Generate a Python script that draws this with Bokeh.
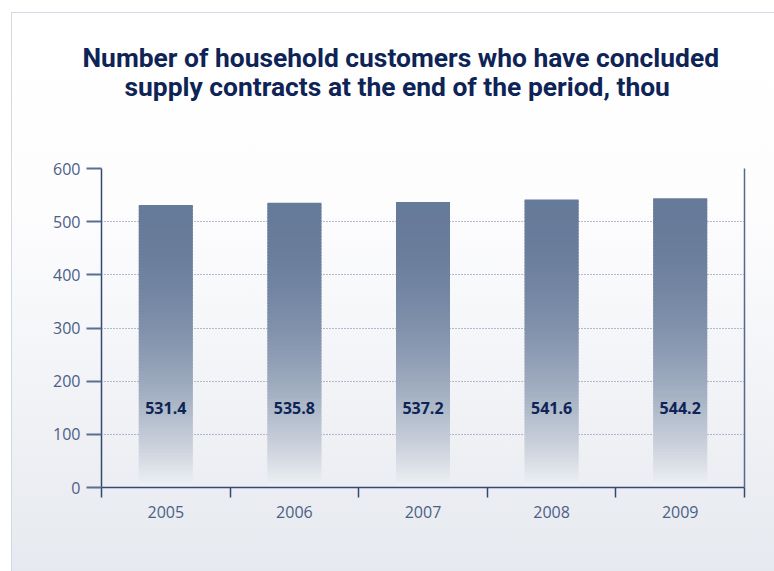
from bokeh.plotting import figure
from bokeh.models import FixedTicker, LinearAxis, Range1d, ColumnDataSource, Title
from bokeh.embed import file_html
from bokeh.resources import INLINE
from bokeh.core.properties import value

# ---- data ----
years = ["2005", "2006", "2007", "2008", "2009"]
customers = [531.4, 535.8, 537.2, 541.6, 544.2]
y_ticks = [0, 100, 200, 300, 400, 500, 600]
title_lines = ["Number of household customers who have concluded",
               "supply contracts at the end of the period, thou"]

NAVY = "#0e2456"
AXIS = "#34496f"
TICKLBL = "#4b5f86"
FONT = "Open Sans"
TFONT = "Roboto"
TSIZE = "26.4px"

p = figure(width=763, height=559, x_range=Range1d(0, len(years)), y_range=Range1d(0, 600),
           output_backend="svg", toolbar_location=None, title=None,
           min_border_left=90, min_border_right=30, min_border_top=156, min_border_bottom=84,
           background_fill_color=None, border_fill_color=None, outline_line_color=None)
p.margin = (12, 0, 0, 11)
p.styles = {"background": "linear-gradient(180deg, #ffffff 0%, #fdfdfe 35%, #e6e9ef 100%)",
            "box-shadow": "inset 1px 1px 0 #d4dae4"}

# spacer between frame and title, then title lines (nearest to frame first)
p.add_layout(Title(text=" ", text_font_size="1px", standoff=64), "above")
p.add_layout(Title(text=title_lines[1], align="left", offset=23, standoff=0,
                   text_font=TFONT, text_font_style="bold", text_font_size=TSIZE,
                   text_color=NAVY), "above")
p.add_layout(Title(text=title_lines[0], align="left", offset=-19, standoff=-6,
                   text_font=TFONT, text_font_style="bold", text_font_size=TSIZE,
                   text_color=NAVY), "above")

# gradient bars built from the data
def lerp(a, b, t):
    return int(round(a + (b - a) * t))

top_rgb = (0x66, 0x7a, 0x99)
bot_rgb = (0xf0, 0xf2, 0xf5)
N = 90
bar_w = 0.42
L, R, B, T, C = [], [], [], [], []
for i, v in enumerate(customers):
    cx = i + 0.5
    for k in range(N):
        b = v * k / N
        t = min(v, v * (k + 1.6) / N)
        f = 1 - (k + 0.5) / N  # 0 at top, 1 at bottom
        tt = f ** 2
        col = "#%02x%02x%02x" % tuple(lerp(top_rgb[j], bot_rgb[j], tt) for j in range(3))
        L.append(cx - bar_w / 2); R.append(cx + bar_w / 2); B.append(b); T.append(t); C.append(col)
p.quad(left=L, right=R, bottom=B, top=T, fill_color=C, line_color=None)

# value labels
lbl_src = ColumnDataSource(dict(x=[i + 0.5 for i in range(len(years))],
                                y=[150] * len(years),
                                text=[f"{v:.1f}" for v in customers]))
p.text(x="x", y="y", text="text", source=lbl_src, text_align="center", text_baseline="middle",
       text_font=value(FONT), text_font_style="bold", text_font_size="16px", text_color=NAVY)

# y axis
ya = p.yaxis[0]
ya.ticker = FixedTicker(ticks=y_ticks, minor_ticks=[])
ya.axis_line_color = AXIS
ya.axis_line_width = 1.5
ya.major_tick_line_color = "#5a6e92"
ya.major_tick_line_width = 2
ya.major_tick_out = 15
ya.major_tick_in = 0
ya.major_label_standoff = 6
ya.major_label_text_font = FONT
ya.major_label_text_font_size = "16px"
ya.major_label_text_color = TICKLBL

# x axis: labels at centres, tick marks at category boundaries
xa = p.xaxis[0]
xa.ticker = FixedTicker(ticks=[i + 0.5 for i in range(len(years))],
                        minor_ticks=list(range(len(years) + 1)))
xa.major_label_overrides = {i + 0.5: y for i, y in enumerate(years)}
xa.major_tick_line_color = None
xa.major_tick_out = 0
xa.major_tick_in = 0
xa.minor_tick_line_color = AXIS
xa.minor_tick_line_width = 1.5
xa.minor_tick_out = 10
xa.minor_tick_in = 0
xa.axis_line_color = AXIS
xa.axis_line_width = 1.5
xa.major_label_standoff = 8
xa.major_label_text_font = FONT
xa.major_label_text_font_size = "16px"
xa.major_label_text_color = TICKLBL

# right border line
ra = LinearAxis(ticker=FixedTicker(ticks=[]), axis_line_color="#55698c", axis_line_width=1.5,
                major_tick_line_color=None, minor_tick_line_color=None)
p.add_layout(ra, "right")

# grid
p.xgrid.grid_line_color = None
p.ygrid.grid_line_color = "#6b7ea0"
p.ygrid.grid_line_dash = "1 2"
p.ygrid.grid_line_width = 1

open("out.html", "w").write(file_html(p, INLINE))
